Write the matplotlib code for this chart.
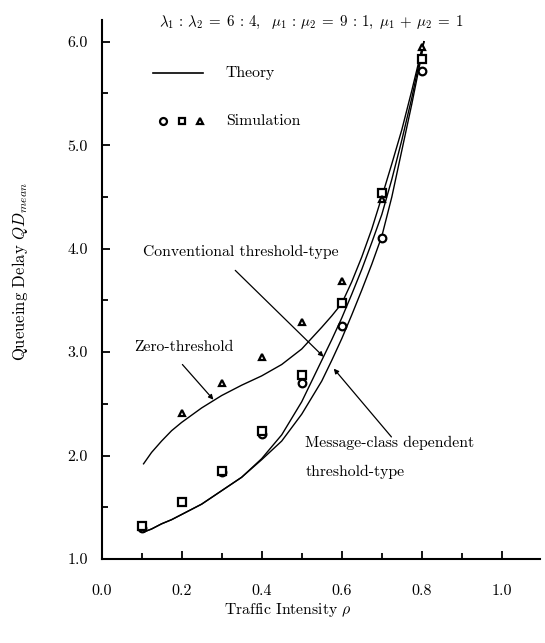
import matplotlib
matplotlib.use("Agg")
import matplotlib.pyplot as plt
from matplotlib.ticker import MultipleLocator

plt.rcParams["font.family"] = ["cmr10", "DejaVu Serif"]
plt.rcParams["mathtext.fontset"] = "cm"
plt.rcParams["axes.formatter.use_mathtext"] = True

# theory curves
theory_rho = [0.105, 0.125, 0.15, 0.175, 0.2, 0.25, 0.3, 0.35, 0.4, 0.45, 0.5, 0.55,
              0.575, 0.6, 0.625, 0.65, 0.675, 0.7, 0.725, 0.75, 0.775, 0.8, 0.805]
zero_threshold = [1.92, 2.03, 2.14, 2.24, 2.32, 2.46, 2.58, 2.68, 2.77, 2.88, 3.03, 3.24,
                  3.35, 3.47, 3.68, 3.92, 4.19, 4.50, 4.82, 5.15, 5.53, 5.93, 6.00]
conventional = [1.26, 1.29, 1.34, 1.38, 1.43, 1.53, 1.66, 1.79, 1.97, 2.20, 2.52, 2.92,
                3.12, 3.33, 3.56, 3.80, 4.06, 4.33, 4.67, 5.05, 5.46, 5.92, 6.00]
message_class = [1.26, 1.29, 1.34, 1.38, 1.43, 1.53, 1.66, 1.79, 1.96, 2.14, 2.40, 2.72,
                 2.92, 3.13, 3.36, 3.60, 3.85, 4.12, 4.50, 4.95, 5.40, 5.88, 6.00]

# simulation points
circle_rho = [0.1, 0.3, 0.4, 0.5, 0.6, 0.7, 0.8]
circle_qd = [1.30, 1.84, 2.21, 2.70, 3.25, 4.10, 5.72]
square_rho = [0.1, 0.2, 0.3, 0.4, 0.5, 0.6, 0.7, 0.8]
square_qd = [1.32, 1.55, 1.85, 2.24, 2.78, 3.47, 4.54, 5.83]
triangle_rho = [0.2, 0.3, 0.4, 0.5, 0.6, 0.7, 0.8]
triangle_qd = [2.41, 2.70, 2.95, 3.29, 3.69, 4.48, 5.95]

x_ticks = [0.0, 0.2, 0.4, 0.6, 0.8, 1.0]
y_ticks = [1.0, 2.0, 3.0, 4.0, 5.0, 6.0]

fs = 11.3

fig = plt.figure(figsize=(5.45, 6.43), dpi=100)
ax = fig.add_axes([101.5 / 545, 1 - 559 / 643, 438.5 / 545, 539 / 643])

for qd in (zero_threshold, conventional, message_class):
    ax.plot(theory_rho, qd, color="black", lw=1.0)

mk = dict(linestyle="none", mfc="white", mec="black", mew=1.6, color="black")
ax.plot(circle_rho, circle_qd, marker="o", ms=5.5, **mk)
ax.plot(square_rho, square_qd, marker="s", ms=5.5, **mk)
ax.plot(triangle_rho, triangle_qd, marker="^", ms=5, **mk)

# legend drawn by hand like the original
ax.plot([0.129, 0.254], [5.70, 5.70], color="black", lw=1.2)
ax.text(0.31, 5.70, "Theory", fontsize=fs, va="center")
ax.plot([0.154], [5.23], marker="o", ms=5, **mk)
ax.plot([0.2], [5.23], marker="s", ms=5, **mk)
ax.plot([0.246], [5.23], marker="^", ms=4.5, **mk)
ax.text(0.31, 5.23, "Simulation", fontsize=fs, va="center")

# annotations
arrow = dict(arrowstyle="-|>", color="black", lw=0.9, mutation_scale=7, shrinkA=0, shrinkB=0)
ax.text(0.081, 3.05, "Zero-threshold", fontsize=fs, va="center")
ax.annotate("", xy=(0.2795, 2.54), xytext=(0.202, 2.88), arrowprops=arrow)
ax.text(0.103, 3.97, "Conventional threshold-type", fontsize=fs, va="center")
ax.annotate("", xy=(0.5545, 2.955), xytext=(0.334, 3.79), arrowprops=arrow)
ax.text(0.509, 2.12, "Message-class dependent", fontsize=fs, va="center")
ax.text(0.509, 1.84, "threshold-type", fontsize=fs, va="center")
ax.annotate("", xy=(0.580, 2.84), xytext=(0.724, 2.18), arrowprops=arrow)

ax.set_xlim(0, 1.095)
ax.set_ylim(1.0, 6.21)
ax.set_xticks(x_ticks)
ax.set_xticklabels([f"{v:.1f}" for v in x_ticks])
ax.set_yticks(y_ticks)
ax.set_yticklabels([f"{v:.1f}" for v in y_ticks])
ax.xaxis.set_minor_locator(MultipleLocator(0.1))
ax.yaxis.set_minor_locator(MultipleLocator(0.5))
ax.tick_params(which="major", direction="in", length=6, width=1.3, labelsize=11.5)
ax.tick_params(which="minor", direction="in", length=4, width=1.3)
ax.tick_params(axis="x", pad=18)
ax.tick_params(axis="y", pad=10)
ax.spines["top"].set_visible(False)
ax.spines["right"].set_visible(False)
ax.spines["left"].set_linewidth(1.5)
ax.spines["bottom"].set_linewidth(1.5)

fig.text(312 / 545, 1 - 22.6 / 643,
         r"$\lambda_1 \,:\, \lambda_2 \;=\; 6 \,:\, 4,\ \ \mu_1 \,:\, \mu_2 \;=\; 9 \,:\, 1,\ \mu_1 \,+\, \mu_2 \;=\; 1$",
         fontsize=10.8, ha="center", va="center")
fig.text(288 / 545, 1 - 610 / 643, r"Traffic Intensity $\rho$", fontsize=fs,
         ha="center", va="center")
fig.text(20 / 545, 1 - 272 / 643, r"Queueing Delay $QD_{mean}$", fontsize=12,
         ha="center", va="center", rotation=90)

plt.savefig("out.png", dpi=100)
plt.close()
